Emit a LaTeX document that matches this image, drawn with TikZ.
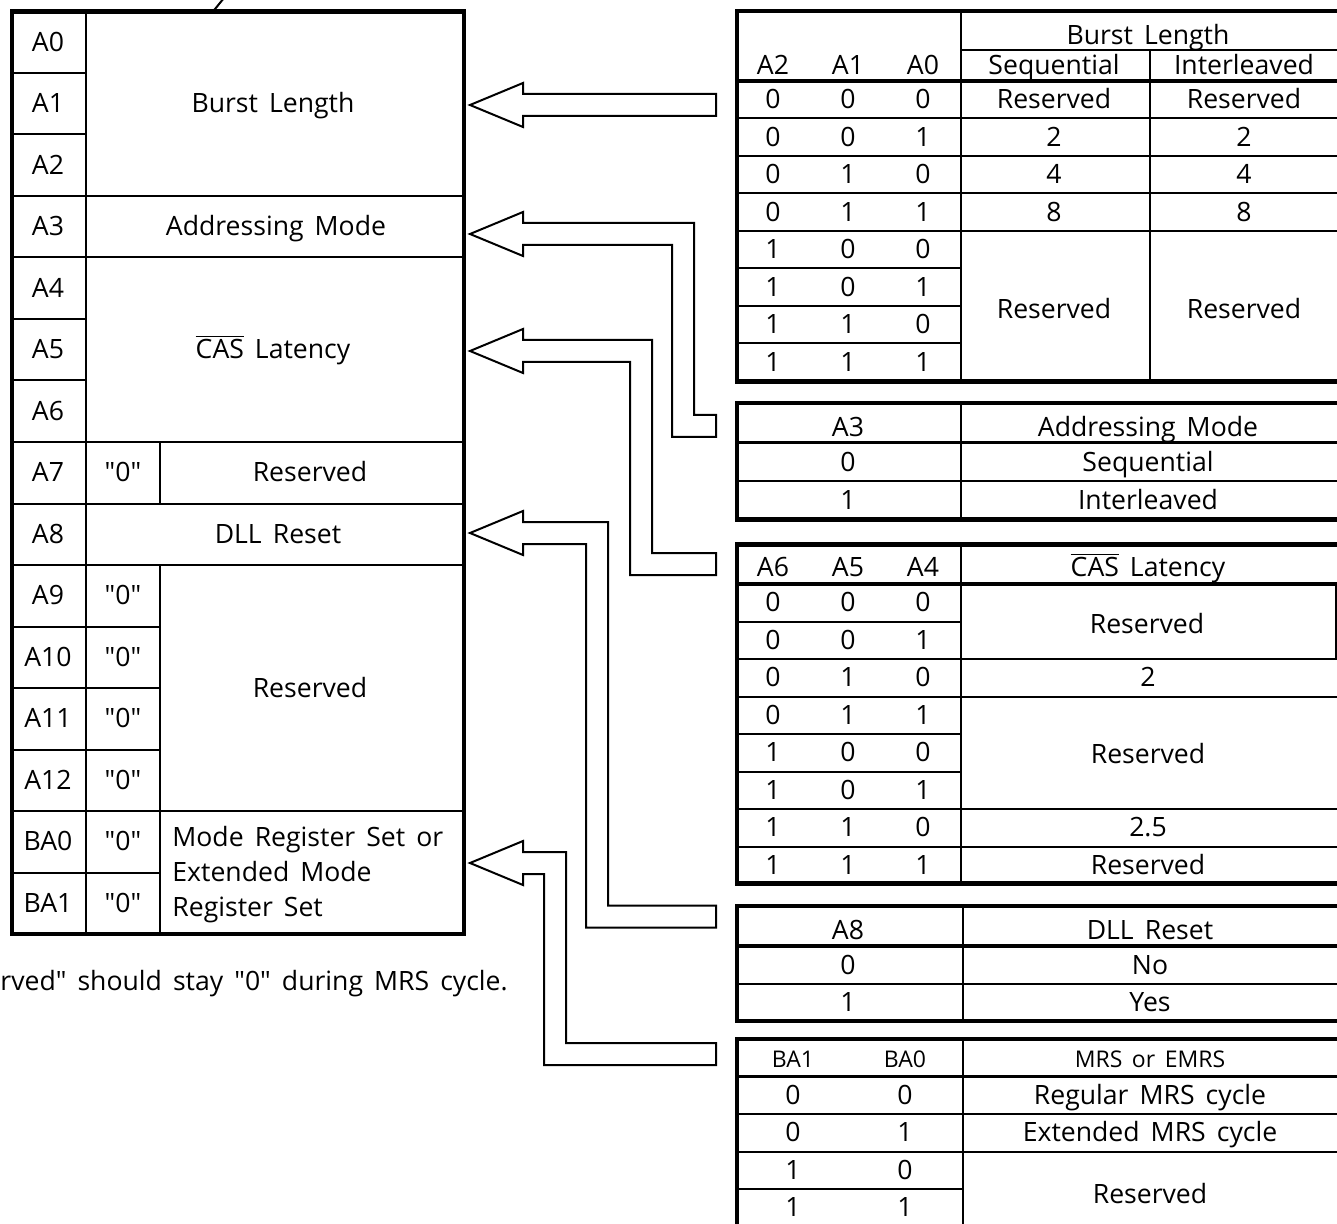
\documentclass[tikz,border=0pt]{standalone}
\usepackage{fontspec}
\setmainfont{Open Sans}[Ligatures=TeXOff, WordSpace=1.6]

\begin{document}
\begin{tikzpicture}[
    x=0.5pt, y=-0.5pt,
    font=\fontsize{13.3}{15}\selectfont,
    txt/.style={inner sep=0pt, text height=0.72em, text depth=0pt, yshift=-1pt},
    hdr/.style={txt, font=\fontsize{11.5}{14}\selectfont},
    frame/.style={line width=2.2pt},
    sep/.style={line width=1.6pt},
    grid/.style={line width=1pt},
    barrow/.style={draw, line width=1pt, fill=white, line join=miter},
  ]
  \useasboundingbox (0,0) rectangle (1337,1224);

  % --- mode register fields (left) ---
  \draw[frame] (12,11.5) rectangle (464,934);
  \draw[grid] (86,11.5) -- (86,934);
  \foreach \i in {1,...,14}
    \draw[grid] (12,{11.5+61.5*\i}) -- (86,{11.5+61.5*\i});
  \foreach \i in {3,4,7,8,9,13}
    \draw[grid] (86,{11.5+61.5*\i}) -- (464,{11.5+61.5*\i});
  \foreach \i in {10,11,12,14}
    \draw[grid] (86,{11.5+61.5*\i}) -- (160,{11.5+61.5*\i});
  \draw[grid] (160,{11.5+61.5*7}) -- (160,{11.5+61.5*8});
  \draw[grid] (160,{11.5+61.5*9}) -- (160,934);
  \coordinate (cut) at (224,-2);
  \draw[grid] (213,11.5) -- (cut);

  \foreach \lab [count=\i from 0] in {A0,A1,A2,A3,A4,A5,A6,A7,A8,A9,A10,A11,A12,BA0,BA1}
    \node[txt] (pin\i) at (48,{11.5+61.5*(\i+0.5)}) {\lab};
  \foreach \i in {7,9,10,11,12,13,14}
    \node[txt] (zero\i) at (123,{11.5+61.5*(\i+0.5)}) {"0"};

  \node[txt] (fbl)  at (273,{11.5+61.5*1.5}) {Burst Length};
  \node[txt] (fam)  at (276,{11.5+61.5*3.5}) {Addressing Mode};
  \node[txt] (fcl)  at (273,{11.5+61.5*5.5}) {$\overline{\hbox{CAS}}$ Latency};
  \node[txt] (frv1) at (310,{11.5+61.5*7.5}) {Reserved};
  \node[txt] (fdll) at (278,{11.5+61.5*8.5}) {DLL Reset};
  \node[txt] (frv2) at (310,{11.5+61.5*11}) {Reserved};
  \node[anchor=north west, inner sep=0pt, align=left,
        font=\fontsize{13.3}{17.5}\selectfont] (fmrs) at (172,826)
    {Mode Register Set or\\Extended Mode\\Register Set};

  \node[txt, anchor=west] (note) at (0,981) {rved" should stay "0" during MRS cycle.};

  % --- burst length table ---
  \draw[frame] (737,11) rectangle (1341,381.5);
  \draw[grid] (961,50) -- (1341,50);
  \draw[sep] (737,81) -- (1341,81);
  \draw[grid] (961,11) -- (961,381.5);
  \draw[grid] (1150,50) -- (1150,381.5);
  \foreach \y in {118.5,156,193.5,231} \draw[grid] (737,\y) -- (1341,\y);
  \foreach \y in {268.5,306,343.5} \draw[grid] (737,\y) -- (961,\y);

  \node[txt] (blh) at (1148,35) {Burst Length};
  \node[txt] (blseq) at (1054,65) {Sequential};
  \node[txt] (blint) at (1244,65) {Interleaved};
  \foreach \b/\x in {A2/773,A1/848,A0/923}
    \node[txt] (bl\b) at (\x,65) {\b};
  \foreach \p/\q/\r [count=\k from 0] in {0/0/0,0/0/1,0/1/0,0/1/1,1/0/0,1/0/1,1/1/0,1/1/1} {
    \node[txt] (blp\k) at (773,{99.75+37.5*\k}) {\p};
    \node[txt] (blq\k) at (848,{99.75+37.5*\k}) {\q};
    \node[txt] (blr\k) at (923,{99.75+37.5*\k}) {\r};
  }
  \foreach \v [count=\k from 0] in {Reserved,2,4,8} {
    \node[txt] (bls\k) at (1054,{99.75+37.5*\k}) {\v};
    \node[txt] (bli\k) at (1244,{99.75+37.5*\k}) {\v};
  }
  \node[txt] (blsr) at (1054,309) {Reserved};
  \node[txt] (blir) at (1244,309) {Reserved};

  % --- addressing mode table ---
  \draw[frame] (737,403) rectangle (1341,519.5);
  \draw[sep] (737,442.5) -- (1341,442.5);
  \draw[grid] (737,481) -- (1341,481);
  \draw[grid] (961,403) -- (961,519.5);
  \node[txt] (amh)  at (848,427) {A3};
  \node[txt] (amt)  at (1148,427) {Addressing Mode};
  \node[txt] (am0)  at (848,462) {0};
  \node[txt] (am0v) at (1148,462) {Sequential};
  \node[txt] (am1)  at (848,500) {1};
  \node[txt] (am1v) at (1148,500) {Interleaved};

  % --- CAS latency table ---
  \draw[frame] (737,544.5) rectangle (1341,883.5);
  \draw[sep] (737,584) -- (1341,584);
  \draw[grid] (961,544.5) -- (961,883.5);
  \foreach \y in {621.5,734,771.5} \draw[grid] (737,\y) -- (961,\y);
  \foreach \y in {659,696.5,809,846.5} \draw[grid] (737,\y) -- (1341,\y);
  \draw[grid] (1335.5,584) -- (1335.5,659);

  \node[txt] (clt) at (1148,567) {$\overline{\hbox{CAS}}$ Latency};
  \foreach \b/\x in {A6/773,A5/848,A4/923}
    \node[txt] (cl\b) at (\x,567) {\b};
  \foreach \p/\q/\r [count=\k from 0] in {0/0/0,0/0/1,0/1/0,0/1/1,1/0/0,1/0/1,1/1/0,1/1/1} {
    \node[txt] (clp\k) at (773,{602.75+37.5*\k}) {\p};
    \node[txt] (clq\k) at (848,{602.75+37.5*\k}) {\q};
    \node[txt] (clr\k) at (923,{602.75+37.5*\k}) {\r};
  }
  \node[txt] (clv0) at (1147,624) {Reserved};
  \node[txt] (clv1) at (1148,677.75) {2};
  \node[txt] (clv2) at (1148,754) {Reserved};
  \node[txt] (clv3) at (1148,827.75) {2.5};
  \node[txt] (clv4) at (1148,865.25) {Reserved};

  % --- DLL reset table ---
  \draw[frame] (737,906) rectangle (1341,1021);
  \draw[sep] (737,946) -- (1341,946);
  \draw[grid] (737,984) -- (1341,984);
  \draw[grid] (963,906) -- (963,1021);
  \node[txt] (dlh)  at (848,930) {A8};
  \node[txt] (dlt)  at (1150,930) {DLL Reset};
  \node[txt] (dl0)  at (848,965) {0};
  \node[txt] (dl0v) at (1150,965) {No};
  \node[txt] (dl1)  at (848,1002) {1};
  \node[txt] (dl1v) at (1150,1002) {Yes};

  % --- MRS / EMRS table ---
  \draw[frame] (737,1039) rectangle (1341,1240);
  \draw[sep] (737,1076.5) -- (1341,1076.5);
  \foreach \y in {1114,1151.5} \draw[grid] (737,\y) -- (1341,\y);
  \draw[grid] (737,1189) -- (963,1189);
  \draw[grid] (963,1039) -- (963,1240);
  \node[hdr] (mrb1) at (793,1058) {BA1};
  \node[hdr] (mrb0) at (905,1058) {BA0};
  \node[hdr] (mrt)  at (1150,1058) {MRS or EMRS};
  \foreach \p/\q [count=\k from 0] in {0/0,0/1,1/0,1/1} {
    \node[txt] (mrp\k) at (793,{1095.25+37.5*\k}) {\p};
    \node[txt] (mrq\k) at (905,{1095.25+37.5*\k}) {\q};
  }
  \node[txt] (mrv0) at (1150,1095.25) {Regular MRS cycle};
  \node[txt] (mrv1) at (1150,1132.75) {Extended MRS cycle};
  \node[txt] (mrv2) at (1150,1194) {Reserved};

  % --- hollow arrows from the tables to the fields ---
  \draw[barrow] (470,105) -- (523,83) -- (523,94) -- (716,94)
    -- (716,116) -- (523,116) -- (523,127) -- cycle;
  \foreach \ty/\xo/\ey in {234/694/426, 351/652/564, 533/608/916.5, 863/566/1054}
    \draw[barrow] (470,\ty) -- (523,{\ty-22}) -- (523,{\ty-11}) -- (\xo,{\ty-11})
      -- (\xo,{\ey-11}) -- (716,{\ey-11}) -- (716,{\ey+11}) -- ({\xo-22},{\ey+11})
      -- ({\xo-22},{\ty+11}) -- (523,{\ty+11}) -- (523,{\ty+22}) -- cycle;
\end{tikzpicture}
\end{document}
